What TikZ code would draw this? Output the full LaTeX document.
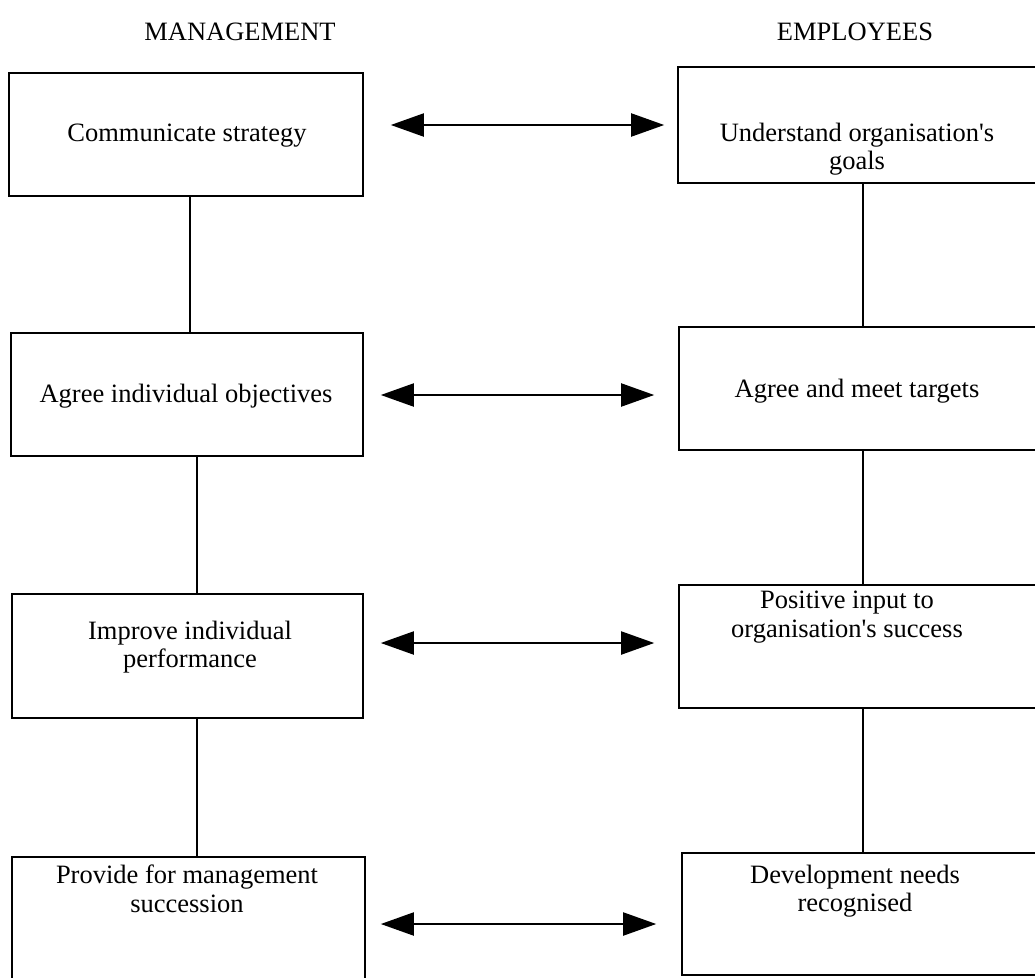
\documentclass[tikz,border=0pt]{standalone}
\usepackage{fontspec}
\setmainfont{Liberation Serif}
\usetikzlibrary{arrows.meta}
\begin{document}
\begin{tikzpicture}[x=1pt,y=-1pt,
  box/.style={draw,line width=1.6pt,rectangle,inner sep=0pt},
  boxtext/.style={align=center,inner sep=0pt,font=\fontsize{26.5}{28.5}\selectfont},
  head/.style={inner sep=0pt,font=\fontsize{26.5}{29.5}\selectfont},
  link/.style={line width=1.6pt},
  twoway/.style={line width=2pt,{Triangle[length=33pt,width=23pt]}-{Triangle[length=33pt,width=23pt]}}]
\useasboundingbox (0,0) rectangle (1035,977);
\begin{scope}
\clip (0,0) rectangle (1035,977);

% column headings
\node[head] (hm) at (240,32) {MANAGEMENT};
\node[head] (he) at (855,32) {EMPLOYEES};

% management boxes
\node[box,minimum width=354pt,minimum height=123pt] (l1) at (186,134.5) {};
\node[box,minimum width=352pt,minimum height=123pt] (l2) at (187,394.5) {};
\node[box,minimum width=351pt,minimum height=124pt] (l3) at (187.5,656) {};
\node[box,minimum width=353pt,minimum height=124pt] (l4) at (188.5,919) {};

% employee boxes
\node[box,minimum width=358pt,minimum height=116pt] (r1) at (857,125) {};
\node[box,minimum width=357pt,minimum height=123pt] (r2) at (857.5,388.5) {};
\node[box,minimum width=357pt,minimum height=123pt] (r3) at (857.5,646.5) {};
\node[box,minimum width=354pt,minimum height=122pt] (r4) at (859,914) {};

% box texts
\node[boxtext] (l1t) at (187,136) {Communicate strategy};
\node[boxtext] (l2t) at (186,396) {Agree individual objectives};
\node[boxtext] (l3t) at (190,647) {Improve individual\\performance};
\node[boxtext] (l4t) at (187,889) {Provide for management\\succession};
\node[boxtext] (r1t) at (857,149) {Understand organisation\textquotesingle s\\goals};
\node[boxtext] (r2t) at (857,391) {Agree and meet targets};
\node[boxtext] (r3t) at (847,617) {Positive input to\\organisation\textquotesingle s success};
\node[boxtext] (r4t) at (855,891) {Development needs\\recognised};

% vertical links
\coordinate (xl1) at (190,0);
\coordinate (xl2) at (197,0);
\coordinate (xr) at (863,0);
\draw[link] (l1.south -| xl1) -- (l2.north -| xl1);
\draw[link] (l2.south -| xl2) -- (l3.north -| xl2);
\draw[link] (l3.south -| xl2) -- (l4.north -| xl2);
\draw[link] (r1.south -| xr) -- (r2.north -| xr);
\draw[link] (r2.south -| xr) -- (r3.north -| xr);
\draw[link] (r3.south -| xr) -- (r4.north -| xr);

% two-way arrows
\coordinate (y1) at (0,125);
\coordinate (y2) at (0,395);
\coordinate (y3) at (0,643);
\coordinate (y4) at (0,924);
\draw[twoway,shorten <=27pt,shorten >=13pt] (l1.east |- y1) -- (r1.west |- y1);
\draw[twoway,shorten <=17pt,shorten >=24pt] (l2.east |- y2) -- (r2.west |- y2);
\draw[twoway,shorten <=17pt,shorten >=24pt] (l3.east |- y3) -- (r3.west |- y3);
\draw[twoway,shorten <=15pt,shorten >=25pt] (l4.east |- y4) -- (r4.west |- y4);
\end{scope}
\end{tikzpicture}
\end{document}
